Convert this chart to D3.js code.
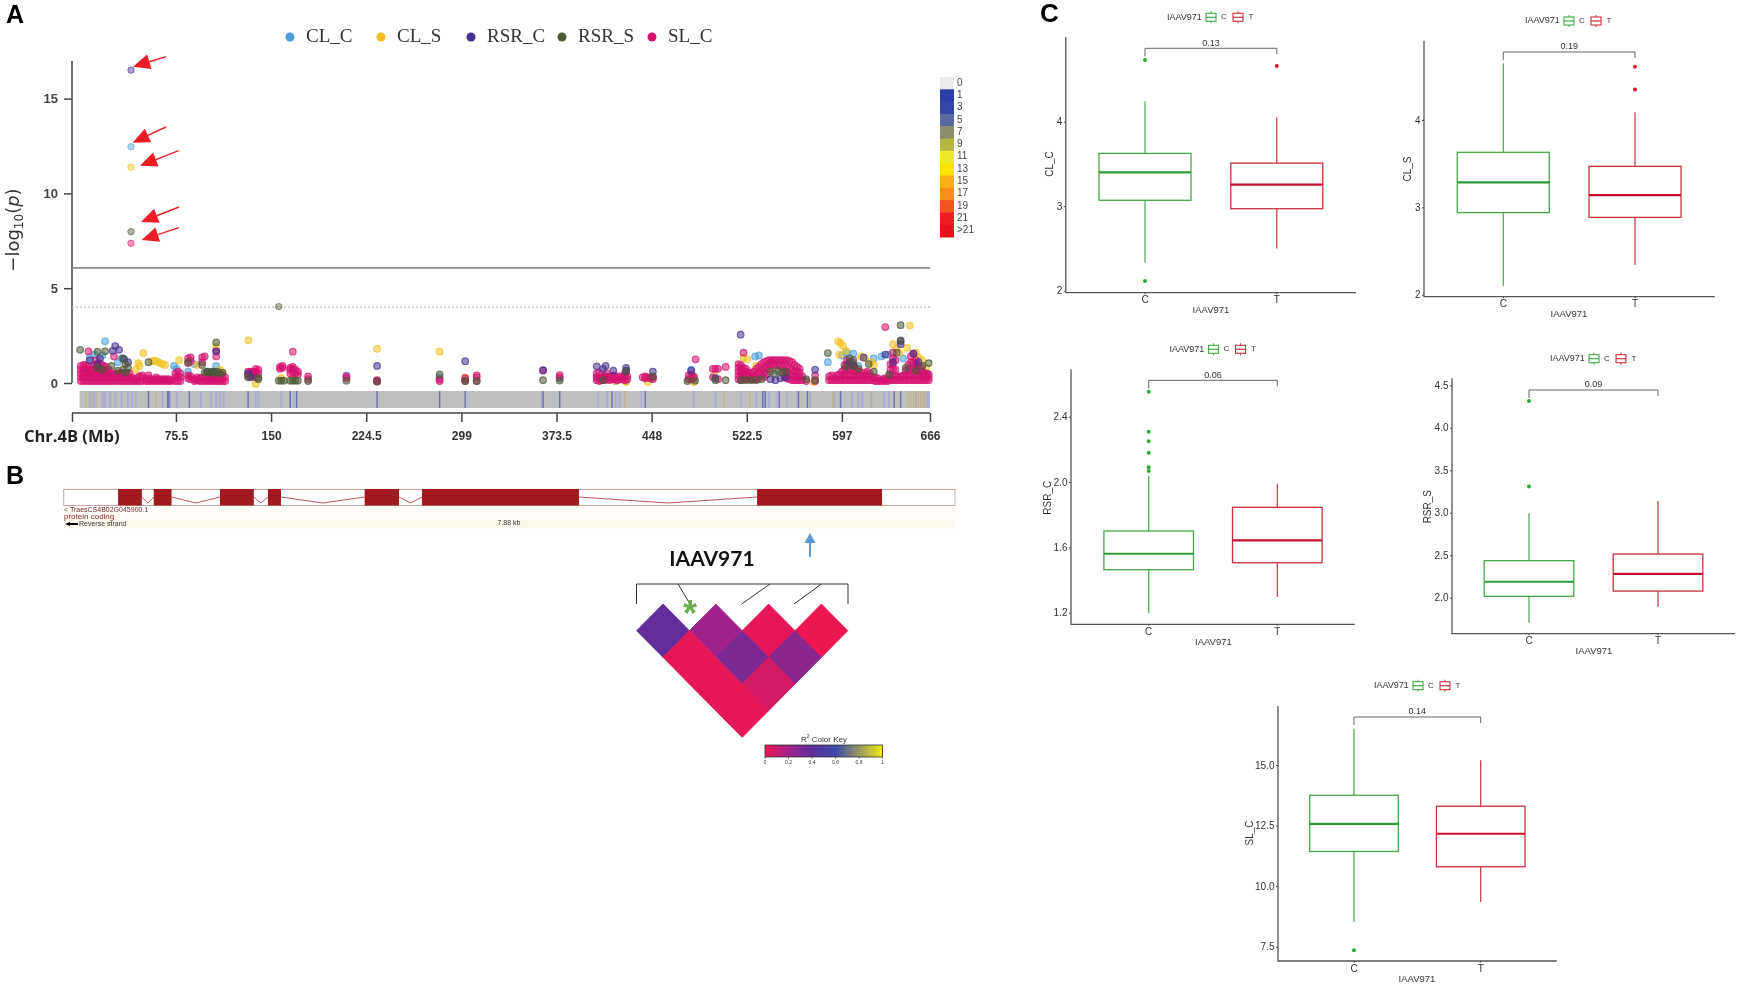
<!DOCTYPE html>
<html><head><meta charset="utf-8">
<script src="https://cdn.jsdelivr.net/npm/d3@7"></script>
<style>html,body{margin:0;background:#fff}svg{display:block;font-family:"Liberation Sans",Arial,sans-serif;filter:blur(.35px)}</style>
</head><body><svg id="c" width="1740" height="988"></svg>
<script>
// ---------- Panel A data: [Mb, -log10(p)] ----------
const traits = ["CL_C","CL_S","RSR_C","RSR_S","SL_C"];
const traitColors = ["#4a9fd8","#f2c11f","#46308f","#4d5a38","#d6136f"];
const topHits = [[40.3,12.46,0],[40.3,11.38,1],[40.3,16.5,2],[40.3,7.98,3],[156,4.03,3],[40.3,7.37,4]];
const clC = [[20,2.2],[12,1.5],[8,1.35],[33,1.3],[30,1.1],[18,1.45],[74,.9],[76,.75],[107,.9],[90,1],[85,.6],[134,.5],[209,.4],[282,.3],[302,.2],[479,.7],[532,1.45],[529,1.4],[520,.3],[586,1.1],[597,1.45],[601,1.6],[606,1.55],[622,1.3],[628,1.4],[633,1.5],[610,.9],[645,1.3],[655,.9],[664,.5],[376,.25],[420,.1],[405,.3],[428,.1]];
const clS = [[46,1.05],[47,.9],[50,1.58],[57,1.15],[59,1.18],[61,1.12],[63,1.05],[65,1.0],[67,.95],[78,1.2],[92,.95],[44,.7],[107,1.9],[110,.7],[112,.55],[132.3,2.25],[138,-.05],[158,.25],[167,.25],[233,1.8],[282,1.65],[302,.3],[420,.1],[428,.05],[445,.05],[481,.05],[497,.4],[520,1.35],[523,1.25],[530,.9],[594,2.2],[596,2.1],[598,1.95],[600,1.7],[595,1.5],[612,1.4],[615,1.3],[620,1.1],[622,.95],[637,2.05],[640,1.8],[642,1.6],[650.3,3.03],[648,1.85],[655,1.6],[657,1.35],[660,1.2],[663,.8],[575,.05]];
const rsrC = [[8,1.2],[16,1.3],[28,1.95],[26,1.7],[31,1.75],[35,1.25],[38,1.1],[14,.95],[107,1.67],[105,.6],[100,.6],[103,.55],[132,.5],[134,.3],[233,.9],[302,1.15],[363,.68],[405,.88],[412,.9],[410,.75],[418,.65],[428,.8],[428,.65],[449,.6],[479,.65],[517.7,2.55],[541,.2],[545,.15],[549,.25],[553,.3],[576,.7],[603,1.1],[606,.95],[614,1.35],[631,1.5],[643,2.2],[643,2.05],[637,1.1],[653,1.55],[657,1.1],[498,.25]];
const rsrS = [[.5,1.75],[14,1.65],[20,1.67],[25,.9],[34,1.3],[36,1],[38,.8],[54,1.1],[85,1.1],[96,.95],[107,2.14],[14,.8],[18,.7],[30,.65],[34,.7],[36,.55],[98,.55],[100,.6],[102,.55],[104,.6],[106,.55],[108,.6],[110,.5],[112,.55],[132,.3],[140,.2],[140,.28],[156,.12],[158,.12],[160,.12],[165,.12],[167,.12],[169,.12],[171,.12],[179,.1],[209,.12],[233,.08],[282,.45],[302,.1],[311,.1],[363,.15],[376,.13],[410,.15],[428,.6],[449,.35],[476,.1],[482,.12],[498,.15],[506,.15],[518,.15],[522,.15],[526,.15],[530,.15],[534,.2],[541,.6],[544,.5],[547,.65],[550,.55],[553,.6],[569,.2],[576,.15],[586,1.58],[603,1.3],[606,1.2],[606,.9],[618,1],[643,3.05],[643,2.25],[640,1.6],[660,.9],[665,1.05],[600,.85],[610,.75],[622,.6],[634,.45],[647,.8],[655,.65]];
const slCols = [[1,[.1,.3,.5,.7,.9]],[3,[.1,.3,.5,.75,.95]],[5,[.1,.3,.55,.75,.95]],[7,[.1,.3,.5,.7,.9,1.67]],[9,[.1,.3,.5,.7]],[11,[.1,.3,.5,.7,.95]],[13,[.1,.3,.5,.75,1,1.2]],[15,[.1,.3,.55,.8,1.05]],[17,[.1,.3,.5,.75,1]],[19,[.1,.3,.5,.7,.9]],[21,[.1,.3,.5,.7,.85]],[23,[.1,.3,.5,.7]],[25,[.1,.3,.45]],[27,[.1,.3,.5,1.4]],[29,[.1,.3,.5]],[31,[.1,.3,.5]],[33,[.1,.3,.55]],[35,[.1,.3,.5]],[37,[.1,.3,.55]],[39,[.1,.3,.5]],[41,[.1,.3]],[43,[.1,.2]],[45,[.1,.25]],[47,[.1,.35]],[49,[.1,.3,.4]],[52,[.1,.2]],[54,[.1,.25,.4]],[56,[.1,.2]],[58,[.1,.15]],[60,[.1,.2,.3]],[62,[.1,.2]],[64,[.1,.2]],[66,[.1,.2]],[68,[.1,.2]],[70,[.1,.2]],[72,[.1,.15]],[75,[.1,.3,.5]],[77,[.1,.35,.6]],[79,[.1,.3,.5]],[85,[.25,.4,1.05,1.3]],[87,[.2,.35,1.15,1.35]],[90,[.1,.2]],[92,[.15,.3]],[94,[.1,.25]],[96,[.1,.3,1.1,1.35]],[98,[.1,.3,1.4]],[100,[.1,.3]],[102,[.1,.25,.4]],[104,[.1,.25,.4]],[106,[.1,.25,.4]],[107,[1.4,1.67]],[108,[.1,.25,.4]],[110,[.1,.25,.4]],[112,[.1,.25,.4]],[114,[.1,.3]],[132,[.4,.6]],[134,[.35,.6]],[136,[.4,.5,.6]],[138,[.3,.6,.75]],[140,[.5,.7]],[157,[.75,.85]],[159,[.8,.9]],[165,[.5,.7,.8]],[167,[.55,.75,.85,1.65]],[169,[.5,.7]],[171,[.45,.6]],[179,[.2,.35]],[209,[.25,.35]],[233,[.08,.12,.15]],[282,[.1,.2]],[302,[.1,.25]],[311,[.1,.3,.4]],[363,[.65]],[376,[.3,.42]],[405,[.15,.3,.5]],[407,[.1,.3,.55]],[409,[.15,.3]],[411,[.15,.35]],[413,[.2,.35,.5]],[415,[.15,.3]],[417,[.2,.35]],[419,[.2,.4]],[421,[.15,.3]],[423,[.2,.35]],[425,[.2,.3]],[427,[.15,.35,.5]],[429,[.2,.35]],[441,[.3]],[443,[.25,.35]],[445,[.3]],[447,[.25]],[449,[.2,.3]],[477,[.2,.4]],[479,[.2,.45]],[481,[.25,.35]],[482.5,[1.25]],[496,[.3,.75]],[498,[.75]],[500,[.2,.75]],[506,[.85]],[516,[.2,.4,.6,.8,1]],[518,[.15,.35,.55,.75,.95]],[520,[.2,.4,.6,.8,1.6]],[522,[.2,.4,.6,.75]],[524,[.2,.4,.55]],[526,[.2,.35,.5]],[528,[.2,.35,.6]],[530,[.2,.4,.75]],[532,[.25,.55,.85]],[534,[.4,.7,1]],[536,[.3,.55,.8,1.1]],[538,[.45,.75,1.15]],[540,[.75,1,1.2]],[542,[.95,1.15,1.2]],[544,[.95,1.2]],[546,[.95,1.2]],[548,[.9,1.2]],[550,[.85,1.2]],[552,[.3,.6,.95,1.2]],[554,[.25,.5,.8,1.2]],[556,[.2,.45,.75,1.15]],[558,[.15,.4,.7,1.1]],[560,[.15,.35,.6,.95]],[562,[.15,.35,.6,.85]],[564,[.15,.3,.55,.75]],[566,[.15,.35]],[569,[.1]],[576,[.1,.4]],[587,[.15,.35]],[589,[.15,.4]],[591,[.15,.3]],[593,[.15,.4]],[595,[.15,.45]],[597,[.15,.4,.6]],[599,[.15,.4,.7,.95]],[601,[.15,.4,.7,1,1.2]],[603,[.15,.4,.7,1]],[605,[.15,.4,.7,1.1]],[607,[.15,.35,.6,.85]],[609,[.15,.4,.65]],[611,[.15,.4,.6]],[613,[.15,.35]],[615,[.15,.4,.55]],[617,[.15,.4,.6]],[619,[.15,.35,.5]],[621,[.15,.3]],[623,[.1,.3]],[625,[.1,.25]],[627,[.1]],[629,[.1,.2]],[631,[.1,.25,2.95]],[633,[.1,.2]],[635,[.15,.4,.7,1]],[637,[.15,.4,.7,1,1.3,1.6]],[639,[.15,.4,.7,1.2]],[641,[.15,.3]],[643,[.15,.35]],[645,[.15,.4]],[647,[.15,.4,.65]],[649,[.15,.4,.7,.95]],[651,[.15,.45,.75,1.1,1.4]],[653,[.15,.45,.8,1.1,1.55]],[655,[.15,.4,.7,1,1.2]],[657,[.15,.4,.65,.9]],[659,[.15,.4,.6,.8]],[661,[.15,.35,.55]],[663,[.15,.35,.5]],[665,[.15,.3,.45]]];
const xTicksA = [75.5,150,224.5,299,373.5,448,522.5,597,666];
const yTicksA = [0,5,10,15];
const genomeLine = 6.07, suggestLine = 4.0;
// density strip positions (Mb)
const stripLight = [8,11,18,20,24,28,33,38,41,44,65,71,76,95,103,107,110,113,138,140,158,165,168,362,406,413,420,423,440,481,498,518,530,536,540,546,554,562,572,591,596,605,610,613,620,630,634,655,664,665];
const stripDark = [54,69,70,86,132,165,170,233,282,302,363,376,417,443,535,537,548,563,570,596,638,643];
const stripTan = [5,9,13,60,505,525,590,620,649,651,653,655,657,659,661,662,427];
const bandLabels = ["0","1","3","5","7","9","11","13","15","17","19","21",">21"];
const bandColors = ["#ececec","#2b3fa8","#3546a6","#5a6a9e","#8b8d6a","#b6b83e","#f0e82a","#fde400","#fcaf17","#fb8d1a","#f2561d","#ee1c25","#e8121e"];
// ---------- Panel B data ----------
const exonsKb = [[.48,.69],[.795,.953],[1.381,1.68],[1.805,1.92],[2.66,2.964],[3.167,4.555],[6.13,7.235]];
const geneLengthKb = 7.88;
const ldRows = [[.38,.2,.02,0],[.02,.3,.26],[.02,.07],[.02]];
const keyStops = [0,.2,.4,.6,.8,1];
const keyColors = ["#ee1650","#a0228a","#5a2f9c","#3c4aa8","#9a9a60","#f5ee10"];
const keyTicks = ["0","0.2","0.4","0.6","0.8","1"];
// ---------- Panel C data: [low, q1, median, q3, high] ----------
const clcC=[2.335,3.07,3.40,3.625,4.24], clcT=[2.5,2.97,3.255,3.51,4.05], clcOutC=[4.73,2.115], clcOutT=[4.66];
const clsC=[2.10,2.94,3.286,3.63,4.65], clsT=[2.34,2.885,3.14,3.47,4.09], clsOutC=[], clsOutT=[4.61,4.35];
const rcC=[1.196,1.463,1.561,1.70,2.037], rcT=[1.296,1.506,1.643,1.845,1.988], rcOutC=[2.553,2.308,2.25,2.18,2.09,2.067], rcOutT=[];
const rsC=[1.706,2.016,2.188,2.436,2.993], rsT=[1.894,2.078,2.28,2.514,3.14], rsOutC=[4.315,3.31], rsOutT=[];
const slC=[8.53,11.43,12.57,13.75,16.5], slT=[9.35,10.8,12.16,13.3,15.2], slOutC=[7.35], slOutT=[];
const groups=["C","T"];

const svg=d3.select("#c");
const txt=(g,x,y,s,o={})=>g.append("text").attr("x",x).attr("y",y).attr("dominant-baseline","middle")
  .attr("text-anchor",o.a||"start").attr("font-size",o.fs||10).attr("font-weight",o.w||"normal")
  .attr("font-family",o.ff||null).attr("fill",o.c||"#333").text(s);

// ---- panel letters
[["A",6,16,25],["B",6,477,25],["C",1040,15,26]].forEach(d=>txt(svg,d[1],d[2],d[0],{fs:d[3],w:"bold",c:"#000"}));

// ---- Panel A
const A=svg.append("g");
const xA=d3.scaleLinear().domain([-5.9,666]).range([72,930]);
const yA=d3.scaleLinear().domain([0,15]).range([383,98.6]);
traits.forEach((t,i)=>{
  const lx=[290,381,471,562,652][i];
  A.append("circle").attr("cx",lx).attr("cy",37).attr("r",4.5).attr("fill",traitColors[i]);
  txt(A,lx+16,37.5,t,{fs:19,ff:"'Liberation Serif',serif",c:"#333"});
});
// axes
A.append("g").attr("transform","translate(72,0)").call(d3.axisLeft(yA).tickValues(yTicksA).tickFormat(d3.format("d")).tickSize(8).tickPadding(6))
  .call(g=>{g.select(".domain").remove();g.selectAll("line").attr("stroke","#444").attr("stroke-width",1.5);
    g.selectAll("text").attr("font-size",13).attr("font-weight","bold").attr("fill","#444").attr("font-family","'Liberation Sans Narrow','Liberation Sans'");});
A.append("line").attr("x1",72).attr("x2",72).attr("y1",61).attr("y2",383).attr("stroke","#444").attr("stroke-width",1.5);
A.append("line").attr("x1",72).attr("x2",930).attr("y1",yA(genomeLine)).attr("y2",yA(genomeLine)).attr("stroke","#8a8a8a").attr("stroke-width",1.6);
A.append("line").attr("x1",72).attr("x2",930).attr("y1",yA(suggestLine)).attr("y2",yA(suggestLine)).attr("stroke","#bbb").attr("stroke-width",1.2).attr("stroke-dasharray","2 2");
A.append("g").attr("transform","translate(72,413)").call(d3.axisBottom(d3.scaleLinear().domain(xA.domain()).range([0,858])).tickValues([-5.9,...xTicksA]).tickFormat(d=>d<0?"":d).tickSize(9).tickPadding(9))
  .call(g=>{g.select(".domain").remove();g.selectAll("line").attr("stroke","#444").attr("stroke-width",1.5);
    g.selectAll("text").attr("font-size",12).attr("font-weight","bold").attr("fill","#333");});
A.append("line").attr("x1",72).attr("x2",930).attr("y1",413).attr("y2",413).attr("stroke","#444").attr("stroke-width",1.5);
txt(A,24,438,"Chr.4B (Mb)",{fs:16.5,w:"bold",c:"#222",ff:"'Open Sans'"});
// y title
const yt=A.append("text").attr("transform","translate(19,230) rotate(-90)").attr("text-anchor","middle").attr("font-size",18).attr("fill","#333").attr("font-family","'DejaVu Sans'");
yt.append("tspan").text("−log");yt.append("tspan").attr("font-size",12).attr("dy",4).text("10");
yt.append("tspan").attr("dy",-4).text("(");yt.append("tspan").attr("font-style","italic").text("p");yt.append("tspan").text(")");
// strip
A.append("rect").attr("x",xA(0)).attr("y",391).attr("width",xA(666)-xA(0)).attr("height",17).attr("fill","#bfbfbf");
[[stripLight,"#a3a9dc",1.8,.8],[stripDark,"#5660a8",1.4,.8],[stripTan,"#c4b07c",1.5,.7]].forEach(([arr,c,w,op])=>{
  A.selectAll(null).data(arr).join("rect").attr("x",d=>xA(d)-w/2).attr("y",391).attr("width",w).attr("height",17).attr("fill",c).attr("opacity",op);
});
// points
const pt=(arr,c)=>A.append("g").selectAll("circle").data(arr).join("circle").attr("cx",d=>xA(d[0])).attr("cy",d=>yA(d[1])).attr("r",3.3)
  .attr("fill",c).attr("fill-opacity",.55).attr("stroke",c).attr("stroke-opacity",.7).attr("stroke-width",1.2);
pt(clC,traitColors[0]);pt(clS,traitColors[1]);
pt(slCols.flatMap(([m,vs])=>vs.map(v=>[m,v])),traitColors[4]);
pt(rsrC,traitColors[2]);pt(rsrS,traitColors[3]);
A.append("g").selectAll("circle").data(topHits).join("circle").attr("cx",d=>xA(d[0])).attr("cy",d=>yA(d[1])).attr("r",3.2)
  .attr("fill",d=>traitColors[d[2]]).attr("fill-opacity",.45).attr("stroke",d=>traitColors[d[2]]).attr("stroke-opacity",.6);
// arrows (annotation)
[[166,56.7,133,66.7],[166,127,132.6,142.7],[178.6,150.7,140,165.7],[179,207,141,222],[179,227.7,141.6,240]].forEach(([x1,y1,x2,y2])=>{
  const a=Math.atan2(y2-y1,x2-x1),L=17,W=7.5,bx=x2-L*Math.cos(a),by=y2-L*Math.sin(a);
  A.append("line").attr("x1",x1).attr("y1",y1).attr("x2",bx).attr("y2",by).attr("stroke","#e8202a").attr("stroke-width",1.4);
  A.append("path").attr("d",`M${x2},${y2}L${bx-W*Math.sin(a)},${by+W*Math.cos(a)}L${bx+W*Math.sin(a)},${by-W*Math.cos(a)}Z`).attr("fill","#ee1c25");
});
// colour band legend
const bandY=d3.scaleBand().domain(bandLabels).range([77,237]);
A.selectAll(null).data(bandLabels).join("rect").attr("x",940).attr("y",d=>bandY(d)).attr("width",14).attr("height",bandY.bandwidth()+.5).attr("fill",(d,i)=>bandColors[i]);
bandLabels.forEach(d=>txt(A,957,bandY(d)+6,d,{fs:10,c:"#444"}));

// ---- Panel B
const B=svg.append("g");
const xG=d3.scaleLinear().domain([0,geneLengthKb]).range([63.8,955]);
B.append("rect").attr("x",64).attr("y",486).attr("width",891).attr("height",44).attr("fill","#fffefa");
B.append("rect").attr("x",64).attr("y",519).attr("width",891).attr("height",9).attr("fill","#fef9ee");
B.append("rect").attr("x",xG(0)).attr("y",489.5).attr("width",xG(geneLengthKb)-xG(0)).attr("height",16).attr("fill","#fff").attr("stroke","#c98a8a").attr("stroke-width",.8);
const ends=exonsKb.slice(0,-1).map((e,i)=>[e[1],exonsKb[i+1][0]]);
B.selectAll(null).data(ends).join("path").attr("fill","none").attr("stroke","#c2555a").attr("stroke-width",1)
  .attr("d",d=>`M${xG(d[0])},497L${xG((d[0]+d[1])/2)},503L${xG(d[1])},497`);
B.selectAll(null).data(exonsKb).join("rect").attr("x",d=>xG(d[0])).attr("width",d=>xG(d[1])-xG(d[0])).attr("y",489).attr("height",16.5).attr("fill","#a01a1e");
txt(B,64,510,"< TraesCS4B02G045900.1",{fs:7,c:"#7b2a2a"});
txt(B,64,516.5,"protein coding",{fs:8,c:"#8b2020"});
B.append("path").attr("d","M65,524L70,522L70,526Z").attr("fill","#000");B.append("rect").attr("x",68).attr("y",523).attr("width",10).attr("height",2).attr("fill","#000");
txt(B,79,524,"Reverse strand",{fs:7,c:"#333"});
txt(B,509,523.5,"7.88 kb",{fs:7,c:"#333",a:"middle"});
// blue arrow
B.append("line").attr("x1",810).attr("x2",810).attr("y1",557).attr("y2",538).attr("stroke","#5b9bd5").attr("stroke-width",2);
B.append("path").attr("d","M810,533L804.5,543L815.5,543Z").attr("fill","#5b9bd5");
txt(B,712,561,"IAAV971",{fs:21,w:"bold",c:"#111",a:"middle",ff:"Lato"});
// bracket
B.append("path").attr("d","M636.5,604V584H848V604M678,584L690,604M770,584L741.7,604M821.4,584L794,604").attr("fill","none").attr("stroke","#333").attr("stroke-width",1);
txt(B,690,616,"*",{fs:36,w:"bold",c:"#6ab04c",a:"middle"});
// LD
const r2=d3.scaleLinear().domain(keyStops).range(keyColors);
const ldX=d3.scaleLinear().domain([0,3]).range([663,821.4]);
const ldY=d3.scaleLinear().domain([0,3]).range([630.7,710.7]);
const hw=26.4,hh=26.67;
ldRows.forEach((row,r)=>{
  B.selectAll(null).data(row).join("path").attr("fill",d=>r2(d)).attr("stroke",d=>r2(d)).attr("stroke-width",.9).attr("stroke-linejoin","round")
   .attr("d",(d,i)=>{const cx=ldX(i+r/2),cy=ldY(r);return `M${cx},${cy-hh}L${cx+hw},${cy}L${cx},${cy+hh}L${cx-hw},${cy}Z`;});
});
// key
const xK=d3.scaleLinear().domain([0,1]).range([765,882.6]);
B.append("g").attr("shape-rendering","crispEdges").selectAll("rect").data(d3.range(0,100)).join("rect").attr("x",d=>xK(d/100)).attr("y",745).attr("width",2).attr("height",12).attr("fill",d=>r2(d/100));
B.append("rect").attr("x",765).attr("y",745).attr("width",117.6).attr("height",12).attr("fill","none").attr("stroke","#333").attr("stroke-width",.8);
B.selectAll(null).data(keyStops).join("line").attr("x1",xK).attr("x2",xK).attr("y1",757).attr("y2",759).attr("stroke","#333").attr("stroke-width",.6);
keyStops.forEach((d,i)=>txt(B,xK(d),763,keyTicks[i],{fs:5,a:"middle"}));
const kt=txt(B,824,739.5,"",{fs:8,a:"middle"});
kt.append("tspan").text("R");kt.append("tspan").attr("font-size",5).attr("dy",-3).text("2");kt.append("tspan").attr("dy",3).text(" Color Key");

// ---- Panel C
const GREEN="#45a847",RED="#c9303c",GREEN_D="#2f9a3a",RED_D="#c8102e";
function boxPanel(o){
  const g=svg.append("g");
  const y=d3.scaleLinear().domain(o.dom).range(o.rng);
  const x=d3.scaleOrdinal().domain(groups).range(o.cx);
  g.append("g").attr("transform",`translate(${o.ax},0)`).call(d3.axisLeft(y).tickValues(o.ticks).tickFormat(o.fmt).tickSize(2).tickPadding(1.5))
    .call(a=>{a.select(".domain").remove();a.selectAll("line").attr("stroke","#444");a.selectAll("text").attr("font-size",10).attr("fill","#333");});
  g.append("path").attr("d",`M${o.ax},${o.top}V${o.bot}H${o.right}`).attr("fill","none").attr("stroke","#555").attr("stroke-width",1.3);
  groups.forEach(k=>{
    g.append("line").attr("x1",x(k)).attr("x2",x(k)).attr("y1",o.bot).attr("y2",o.bot+1.5).attr("stroke","#444");
    txt(g,x(k),o.bot+8,k,{fs:10,a:"middle"});
  });
  txt(g,o.tx,o.bot+18,"IAAV971",{fs:9.5,a:"middle"});
  g.append("text").attr("transform",`translate(${o.yx},${o.yy}) rotate(-90)`).attr("text-anchor","middle").attr("dominant-baseline","middle").attr("font-size",10).attr("fill","#333").text(o.name);
  [[o.c,o.oc,"C",GREEN,GREEN_D],[o.t,o.ot,"T",RED,RED_D]].forEach(([b,out,k,col,dark])=>{
    const cx=x(k),hw=o.hw;
    g.append("line").attr("x1",cx).attr("x2",cx).attr("y1",y(b[0])).attr("y2",y(b[1])).attr("stroke",col).attr("stroke-width",1.2);
    g.append("line").attr("x1",cx).attr("x2",cx).attr("y1",y(b[3])).attr("y2",y(b[4])).attr("stroke",col).attr("stroke-width",1.2);
    g.append("rect").attr("x",cx-hw).attr("width",2*hw).attr("y",y(b[3])).attr("height",y(b[1])-y(b[3])).attr("fill","#fff").attr("stroke",col).attr("stroke-width",1.3);
    g.append("line").attr("x1",cx-hw).attr("x2",cx+hw).attr("y1",y(b[2])).attr("y2",y(b[2])).attr("stroke",dark).attr("stroke-width",2.1);
    g.selectAll(null).data(out).join("circle").attr("cx",cx).attr("cy",d=>y(d)).attr("r",2).attr("fill",k=="C"?"#2ea836":"#d8141f");
  });
  const [c0,c1]=o.cx;
  g.append("path").attr("d",`M${c0},${o.br+8}V${o.br}H${c1}V${o.br+6}`).attr("fill","none").attr("stroke","#666").attr("stroke-width",1);
  txt(g,(c0+c1)/2,o.br-5,o.p,{fs:9,a:"middle"});
  // legend
  const lx=o.lx,ly=o.ly;
  txt(g,lx,ly,"IAAV971",{fs:9,c:"#333"});
  [[44,"C",GREEN],[71,"T",RED]].forEach(([dx,k,col])=>{
    g.append("line").attr("x1",lx+dx).attr("x2",lx+dx).attr("y1",ly-6).attr("y2",ly+6).attr("stroke",col);
    g.append("rect").attr("x",lx+dx-5).attr("y",ly-4).attr("width",10).attr("height",8).attr("fill","#fff").attr("stroke",col).attr("stroke-width",1.1);
    g.append("line").attr("x1",lx+dx-5).attr("x2",lx+dx+5).attr("y1",ly).attr("y2",ly).attr("stroke",col).attr("stroke-width",1.2);
    txt(g,lx+dx+13,ly,k,{fs:8,a:"middle"});
  });
}
boxPanel({name:"CL_C",dom:[2,4],rng:[290.7,121.7],ticks:[2,3,4],fmt:d3.format("d"),ax:1065.8,top:37,bot:292.7,right:1356,cx:[1145,1276.8],hw:46,tx:1211,yx:1050.4,yy:164,br:48.3,p:"0.13",lx:1167,ly:17.3,c:clcC,t:clcT,oc:clcOutC,ot:clcOutT});
boxPanel({name:"CL_S",dom:[2,4],rng:[294.7,120],ticks:[2,3,4],fmt:d3.format("d"),ax:1424,top:40.7,bot:296.7,right:1714.8,cx:[1503.3,1635],hw:46,tx:1569,yx:1408,yy:169,br:52,p:"0.19",lx:1525,ly:21,c:clsC,t:clsT,oc:clsOutC,ot:clsOutT});
boxPanel({name:"RSR_C",dom:[1.2,2.4],rng:[612.7,416.7],ticks:[1.2,1.6,2,2.4],fmt:d3.format(".1f"),ax:1071,top:369.3,bot:624.3,right:1354.7,cx:[1148.7,1277.3],hw:44.8,tx:1213.4,yx:1048,yy:497.7,br:380.3,p:"0.06",lx:1169.5,ly:349.3,c:rcC,t:rcT,oc:rcOutC,ot:rcOutT});
boxPanel({name:"RSR_S",dom:[2,4.5],rng:[597.7,385.3],ticks:[2,2.5,3,3.5,4,4.5],fmt:d3.format(".1f"),ax:1452,top:378.3,bot:633.7,right:1735,cx:[1529,1658],hw:44.8,tx:1594,yx:1428.5,yy:506.7,br:390,p:"0.09",lx:1550,ly:358.7,c:rsC,t:rsT,oc:rsOutC,ot:rsOutT});
boxPanel({name:"SL_C",dom:[7.5,15],rng:[946.7,765],ticks:[7.5,10,12.5,15],fmt:d3.format(".1f"),ax:1278,top:706,bot:961,right:1556.7,cx:[1354,1480.7],hw:44.3,tx:1417,yx:1250,yy:833,br:717,p:"0.14",lx:1374,ly:685.7,c:slC,t:slT,oc:slOutC,ot:slOutT});
</script></body></html>
